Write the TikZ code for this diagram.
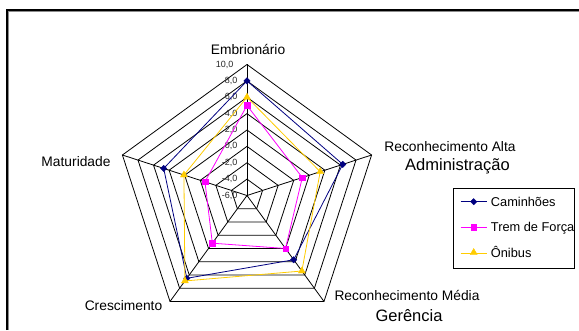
\documentclass[tikz,border=0pt]{standalone}
\usepackage{fontspec}
\setmainfont{Liberation Sans}
\usetikzlibrary{shapes.geometric}
\definecolor{navy}{RGB}{0,0,128}
\definecolor{mag}{RGB}{255,0,255}
\definecolor{gold}{RGB}{255,204,0}
\begin{document}
\begin{tikzpicture}[x=1pt,y=1pt,
  grid/.style={black, line width=0.8pt},
  lab/.style={font=\fontsize{13.8}{16}\selectfont, inner sep=0pt, anchor=base},
  biglab/.style={font=\fontsize{16.5}{19}\selectfont, inner sep=0pt, anchor=base},
  num/.style={font=\fontsize{9}{10}\selectfont, text=black!85, inner sep=0pt, anchor=east},
  leg/.style={font=\fontsize{12.8}{15}\selectfont, inner sep=0pt, anchor=base west},
  camline/.style={draw=navy, line width=0.8pt},
  tremline/.style={draw=mag, line width=0.8pt},
  onibusline/.style={draw=gold, line width=0.8pt},
  cammark/.style={diamond, fill=navy, draw=navy, inner sep=0pt, minimum size=6.5pt},
  tremmark/.style={rectangle, fill=mag, draw=mag, inner sep=0pt, minimum size=5.5pt},
  onibusmark/.style={regular polygon, regular polygon sides=3, fill=gold, draw=gold, inner sep=0pt, minimum size=8pt},
  frameline/.style={black, line width=1.2pt},
  frameshadow/.style={black!45, line width=0.9pt}
]
\useasboundingbox (0,0) rectangle (579,330);
% outer frame
\coordinate (fa) at (7,0);
\coordinate (fb) at (7,320);
\coordinate (fc) at (579,320);
\coordinate (ga) at (8.4,0);
\coordinate (gb) at (8.4,318.6);
\coordinate (gc) at (579,318.6);
\draw[frameshadow] (ga) -- (gb) -- (gc);
\draw[frameline] (fa) -- (fb) -- (fc);

\begin{scope}[shift={(247,134.5)}]
  \foreach \i in {1,...,8}{
    \pgfmathsetmacro\r{\i*16.375}
    \draw[grid] (90:\r) -- (18:\r) -- (-54:\r) -- (-126:\r) -- (162:\r) -- cycle;
  }
  \coordinate (O) at (0,0);
  \foreach \a/\n in {90/e,18/a,-54/m,-126/c,162/t}{
    \coordinate (v\n) at (\a:131);
    \draw[grid] (O) -- (v\n);
  }
  % axis numbers
  \foreach \v/\t in {-6/{-6,0},-4/{-4,0},-2/{-2,0},0/{0,0},2/{2,0},4/{4,0},6/{6,0},8/{8,0}}{
    \node[num] (n\v) at (-9.5,{(\v+6)*8.1875}) {\t};
  }
  \node[num] (n10) at (-13.5,131) {10,0};
  % Caminhoes
  \foreach \a/\v [count=\k] in {90/8.0,18/6.3,-54/3.7,-126/6.5,162/4.7}
    \coordinate (c\k) at (\a:{(\v+6)*8.1875});
  \draw[camline] (c1) -- (c2) -- (c3) -- (c4) -- (c5) -- cycle;
  \foreach \k in {1,...,5} \node[cammark] (cm\k) at (c\k) {};
  % Trem de Forca
  \foreach \a/\v [count=\k] in {90/5.0,18/1.1,-54/2.0,-126/1.2,162/-0.6}
    \coordinate (t\k) at (\a:{(\v+6)*8.1875});
  \draw[tremline] (t1) -- (t2) -- (t3) -- (t4) -- (t5) -- cycle;
  \foreach \k in {1,...,5} \node[tremmark] (tm\k) at (t\k) {};
  % Onibus
  \foreach \a/\v [count=\k] in {90/6.0,18/3.4,-54/5.4,-126/6.9,162/2.1}
    \coordinate (o\k) at (\a:{(\v+6)*8.1875});
  \draw[onibusline] (o1) -- (o2) -- (o3) -- (o4) -- (o5) -- cycle;
  \foreach \k in {1,...,5} \node[onibusmark] (om\k) at (o\k) {};
\end{scope}

% category labels
\node[lab] (embr) at (248,275) {Embrionário};
\node[lab] (alta) at (450,178.3) {Reconhecimento Alta};
\node[biglab] (adm) at (457.5,159) {Administração};
\node[lab] (mat) at (76,164) {Maturidade};
\node[lab] (cresc) at (123.5,20) {Crescimento};
\node[lab] (media) at (407,30) {Reconhecimento Média};
\node[biglab] (ger) at (409,8.5) {Gerência};

% legend
\node[draw=black, line width=0.8pt, minimum width=121.3pt, minimum height=80pt, inner sep=0pt, anchor=north west] (legbox) at (452.7,141.7) {};
\coordinate (l1a) at (460.7,128.3); \coordinate (l1b) at (486.7,128.3);
\coordinate (l2a) at (460.7,102.7); \coordinate (l2b) at (486.7,102.7);
\coordinate (l3a) at (460.7,76.7);  \coordinate (l3b) at (486.7,76.7);
\draw[camline] (l1a) -- (l1b);
\node[cammark] (lm1) at (473.7,128.3) {};
\draw[tremline] (l2a) -- (l2b);
\node[tremmark] (lm2) at (473.7,102.7) {};
\draw[onibusline] (l3a) -- (l3b);
\node[onibusmark] (lm3) at (473.7,77.5) {};
\node[leg] (lt1) at (490.7,124) {Caminhões};
\node[leg] (lt2) at (490.7,98.5) {Trem de Força};
\node[leg] (lt3) at (490.7,73) {Ônibus};
\end{tikzpicture}
\end{document}
